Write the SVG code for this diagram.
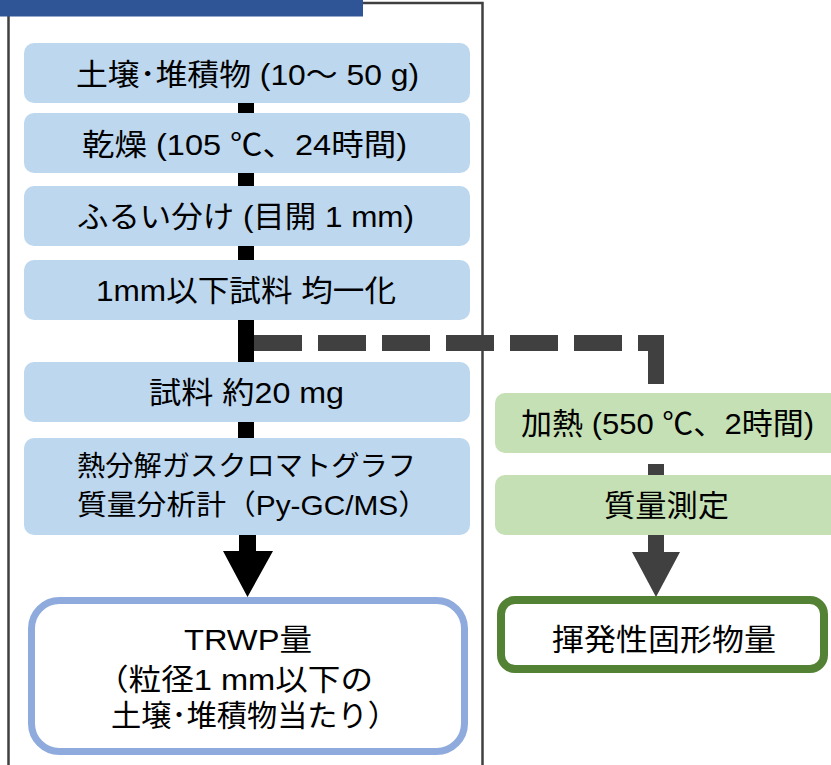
<svg xmlns="http://www.w3.org/2000/svg" width="831" height="765" viewBox="0 0 831 765">
<style>
.t{font-family:"Liberation Sans","Noto Sans CJK JP",sans-serif;font-size:30px;fill:#000}
.s{font-size:28px}
.step{fill:#BDD7EE}
.gstep{fill:#C5E0B4}
</style>
<rect width="831" height="765" fill="#fff"/>
<rect x="8.5" y="3" width="474" height="800" fill="none" stroke="#404040" stroke-width="2.5"/>
<rect x="0" y="0" width="363" height="16.5" fill="#2F5597"/>
<g id="connectors">
<g stroke="#000" stroke-width="16">
<line x1="246" y1="102" x2="246" y2="114"/>
<line x1="246" y1="172" x2="246" y2="187"/>
<line x1="246" y1="245" x2="246" y2="261"/>
<line x1="246" y1="319" x2="246" y2="363"/>
<line x1="246" y1="421" x2="246" y2="439"/>
</g>
<polygon points="239,534 256,534 256,551 273,551 247.5,597 223,551 239,551" fill="#000"/>
<path d="M254 343 H656 V384" fill="none" stroke="#404040" stroke-width="16" stroke-dasharray="48 16 48 16 48 16 48 16 48 16 48 16 60 200"/>
<rect x="648" y="464" width="16" height="12" fill="#404040"/>
<polygon points="648,534 664,534 664,552 680,552 656,597 632,552 648,552" fill="#404040"/>
</g>
<g id="n1"><rect class="step" x="24" y="43" width="446" height="60" rx="10"/><text class="t" x="76" y="85" textLength="343" lengthAdjust="spacingAndGlyphs">土壌･堆積物 (10～ 50 g)</text></g>
<g id="n2"><rect class="step" x="24" y="113" width="446" height="60" rx="10"/><text class="t" x="82" y="155" textLength="325" lengthAdjust="spacingAndGlyphs">乾燥 (105 ℃、24時間)</text></g>
<g id="n3"><rect class="step" x="24" y="186" width="446" height="60" rx="10"/><text class="t" x="77" y="227" textLength="337" lengthAdjust="spacingAndGlyphs">ふるい分け (目開 1 mm)</text></g>
<g id="n4"><rect class="step" x="24" y="260" width="446" height="60" rx="10"/><text class="t" x="96" y="301" textLength="300" lengthAdjust="spacingAndGlyphs">1mm以下試料 均一化</text></g>
<g id="n5"><rect class="step" x="24" y="362" width="446" height="60" rx="10"/><text class="t" x="149" y="403" textLength="195" lengthAdjust="spacingAndGlyphs">試料 約20 mg</text></g>
<g id="n6"><rect class="step" x="24" y="438" width="446" height="97" rx="10"/><text class="t s" x="77" y="476" textLength="339" lengthAdjust="spacingAndGlyphs">熱分解ガスクロマトグラフ</text><text class="t s" x="77" y="515" textLength="351" lengthAdjust="spacingAndGlyphs">質量分析計（Py-GC/MS）</text></g>
<g id="n7"><rect x="31.5" y="600.5" width="433" height="151" rx="28" fill="#fff" stroke="#8FAADC" stroke-width="7"/><text class="t" x="184" y="650" textLength="128" lengthAdjust="spacingAndGlyphs">TRWP量</text><text class="t" x="96" y="690" textLength="277" lengthAdjust="spacingAndGlyphs">（粒径1 mm以下の</text><text class="t" x="111" y="726" textLength="287" lengthAdjust="spacingAndGlyphs">土壌･堆積物当たり）</text></g>
<g id="n8"><rect class="gstep" x="495" y="393" width="345" height="60" rx="10"/><text class="t" x="521" y="434" textLength="293" lengthAdjust="spacingAndGlyphs">加熱 (550 ℃、2時間)</text></g>
<g id="n9"><rect class="gstep" x="495" y="475" width="345" height="60" rx="10"/><text class="t" x="604" y="516" textLength="125" lengthAdjust="spacingAndGlyphs">質量測定</text></g>
<g id="n10"><rect x="501" y="600" width="323" height="69" rx="14" fill="#fff" stroke="#548235" stroke-width="8"/><text class="t" x="552" y="650" textLength="224" lengthAdjust="spacingAndGlyphs">揮発性固形物量</text></g>
</svg>
